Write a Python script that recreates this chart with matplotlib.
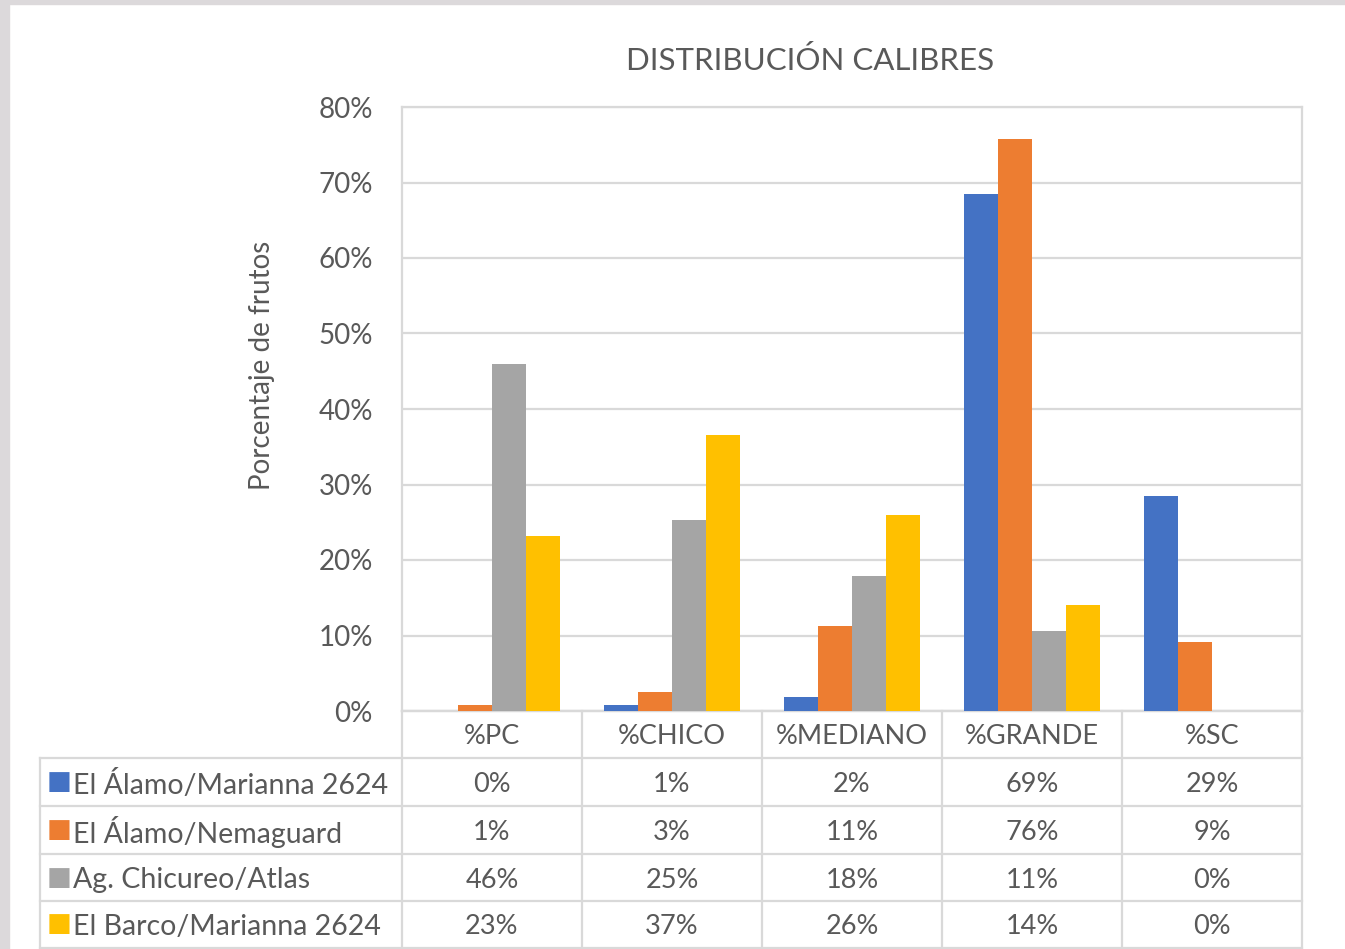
import numpy as np
import matplotlib
matplotlib.use("Agg")
import matplotlib.pyplot as plt
import matplotlib.transforms as mtransforms

plt.rcParams['font.family'] = ['Lato', 'DejaVu Sans']

# data
categorias = ['%PC', '%CHICO', '%MEDIANO', '%GRANDE', '%SC']
series = ['El Álamo/Marianna 2624', 'El Álamo/Nemaguard',
          'Ag. Chicureo/Atlas', 'El Barco/Marianna 2624']
alamo_marianna = [0.0, 0.8, 1.8, 68.5, 28.5]
alamo_nemaguard = [0.8, 2.5, 11.3, 75.8, 9.2]
chicureo_atlas = [46.0, 25.3, 17.9, 10.6, 0.0]
barco_marianna = [23.2, 36.6, 26.0, 14.1, 0.0]
tabla = [['0%', '1%', '2%', '69%', '29%'],
         ['1%', '3%', '11%', '76%', '9%'],
         ['46%', '25%', '18%', '11%', '0%'],
         ['23%', '37%', '26%', '14%', '0%']]

valores = [alamo_marianna, alamo_nemaguard, chicureo_atlas, barco_marianna]
colores = ['#4472c4', '#ed7d31', '#a5a5a5', '#ffc000']
gris_txt = '#595959'
gris_lin = '#d9d9d9'

W, H = 1345, 949
fig = plt.figure(figsize=(W / 100, H / 100), dpi=100)
fig.patch.set_facecolor('white')

# borde gris de la captura
fig.patches.append(plt.Rectangle((0, 0), 9 / W, 1, transform=fig.transFigure,
                                 color='#dcd9db', zorder=0))
fig.patches.append(plt.Rectangle((0, 1 - 4 / H), 1, 4 / H, transform=fig.transFigure,
                                 color='#dcd9db', zorder=0))

x0, x1, ytop, ybot = 402, 1302, 107, 711
ax = fig.add_axes([x0 / W, 1 - ybot / H, (x1 - x0) / W, (ybot - ytop) / H])

x = np.arange(len(categorias))
ancho = 0.19
for i, (vals, col) in enumerate(zip(valores, colores)):
    ax.bar(x + (i - 1.5) * ancho, vals, ancho, color=col, zorder=3)

ax.set_xlim(-0.5, len(categorias) - 0.5)
ax.set_ylim(0, 80)
ax.set_yticks(range(0, 81, 10))
ax.set_yticklabels([f'{v}%' for v in range(0, 81, 10)])
ax.set_xticks([])
ax.tick_params(axis='y', length=0, pad=21, labelsize=20, labelcolor=gris_txt)
ax.grid(axis='y', color=gris_lin, lw=1.6, zorder=0)
for s in ax.spines.values():
    s.set_color(gris_lin)
    s.set_linewidth(1.6)

fig.text(810 / W, 1 - 60 / H, 'DISTRIBUCIÓN CALIBRES', ha='center', va='center',
         fontsize=22.5, color=gris_txt)
fig.text(262 / W, 1 - 365 / H, 'Porcentaje de frutos', ha='center', va='center',
         rotation=90, fontsize=20, color=gris_txt)

# tabla de datos bajo el grafico
trans = mtransforms.blended_transform_factory(ax.transData, ax.transAxes)
alto_ax = ybot - ytop
filas_px = [711, 758, 806, 854, 901, 948]
filas = [(ybot - p) / alto_ax for p in filas_px]
izq = -0.5 - (x0 - 40) / 180.0

kw = dict(transform=trans, clip_on=False, color=gris_lin, lw=1.6)
for k, yy in enumerate(filas):
    xs = izq if k >= 1 else -0.5
    ax.plot([xs, len(categorias) - 0.5], [yy, yy], **kw)
for c in range(len(categorias) + 1):
    ax.plot([c - 0.5, c - 0.5], [filas[0], filas[-1]], **kw)
ax.plot([izq, izq], [filas[1], filas[-1]], **kw)

for j, cat in enumerate(categorias):
    ax.text(j, (filas[0] + filas[1]) / 2, cat, transform=trans, ha='center',
            va='center_baseline', fontsize=19.5, color=gris_txt)

for i, nombre in enumerate(series):
    yc = (filas[i + 1] + filas[i + 2]) / 2
    ax.text(izq + 7 / 180.0, yc, '■', transform=trans, ha='left', va='center',
            fontsize=19, color=colores[i], family=['DejaVu Sans'])
    ax.text(izq + 33 / 180.0, yc, nombre, transform=trans, ha='left',
            va='center_baseline', fontsize=20.5, color=gris_txt)
    for j in range(len(categorias)):
        ax.text(j, yc, tabla[i][j], transform=trans, ha='center',
                va='center_baseline', fontsize=19.5, color=gris_txt)

fig.savefig('out.png', dpi=100)
